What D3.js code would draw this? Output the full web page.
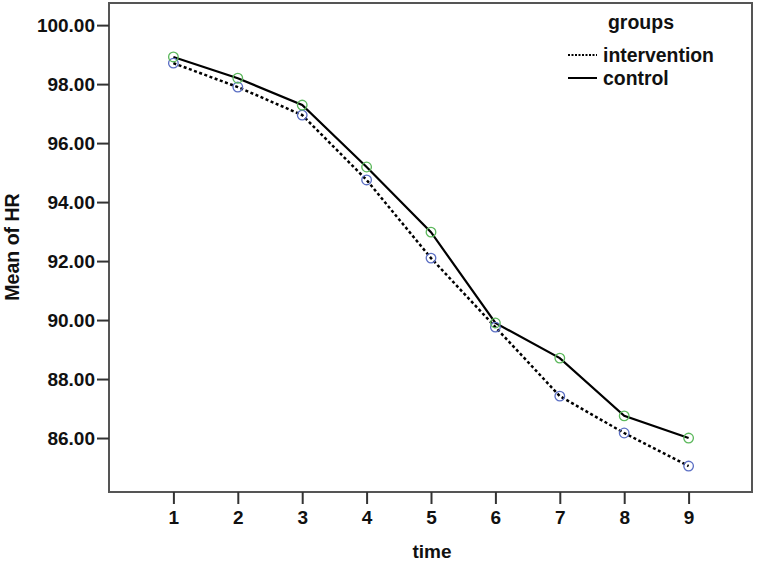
<!DOCTYPE html>
<html lang="en">
<head>
    <meta charset="UTF-8">
    <title>Mean of HR by time</title>
    <script src="https://d3js.org/d3.v7.min.js"></script>
    <style>
        body { margin: 0; background: #fff; }
        text { font-family: "Liberation Sans", Arial, sans-serif; fill: #111; font-weight: bold; }
    </style>
</head>
<body>
    <script>
        // data
        var times = [1, 2, 3, 4, 5, 6, 7, 8, 9];
        var intervention = [98.71, 97.90, 96.95, 94.75, 92.10, 89.76, 87.42, 86.17, 85.05];
        var control = [98.92, 98.20, 97.29, 95.19, 92.98, 89.90, 88.71, 86.75, 86.00];
        var yTicks = [86, 88, 90, 92, 94, 96, 98, 100];

        var w = 757, h = 563;
        var mLeft = 109, mRight = 752, mTop = 3, mBottom = 492;

        var svg = d3.select("body").append("svg")
            .attr("width", w)
            .attr("height", h);

        var x = d3.scaleLinear().domain([0, 10]).range([mLeft, mRight + 1]);
        var y = d3.scaleLinear().domain([84.17, 100.75]).range([mBottom, mTop]);

        // plot frame
        svg.append("rect")
            .attr("x", mLeft).attr("y", mTop)
            .attr("width", mRight - mLeft).attr("height", mBottom - mTop)
            .attr("fill", "none")
            .attr("stroke", "#555")
            .attr("stroke-width", 2);

        // axes
        var yAxis = svg.append("g")
            .attr("transform", "translate(" + mLeft + ",0)")
            .call(d3.axisLeft(y).tickValues(yTicks).tickSize(12).tickPadding(2)
                .tickFormat(d3.format(".2f")));

        var xAxis = svg.append("g")
            .attr("transform", "translate(0," + mBottom + ")")
            .call(d3.axisBottom(x).tickValues(times).tickSize(12).tickPadding(7));

        [yAxis, xAxis].forEach(function(g) {
            g.select(".domain").remove();
            g.selectAll("line").attr("stroke", "#333").attr("stroke-width", 2);
            g.selectAll("text").style("font-size", "19px").attr("fill", "#111");
        });

        // axis titles
        svg.append("text")
            .attr("x", 432)
            .attr("y", 558)
            .attr("text-anchor", "middle")
            .style("font-size", "19px")
            .text("time");

        svg.append("text")
            .attr("transform", "translate(19,247) rotate(-90)")
            .attr("text-anchor", "middle")
            .style("font-size", "19.5px")
            .text("Mean of HR");

        // lines
        var line = d3.line()
            .x(function(d, i) { return x(times[i]); })
            .y(function(d) { return y(d); });

        svg.append("path")
            .datum(intervention)
            .attr("d", line)
            .attr("fill", "none")
            .attr("stroke", "#000")
            .attr("stroke-width", 2.5)
            .attr("stroke-dasharray", "3,2.5");

        svg.append("path")
            .datum(control)
            .attr("d", line)
            .attr("fill", "none")
            .attr("stroke", "#000")
            .attr("stroke-width", 2.2);

        // markers
        svg.selectAll("circle.int")
            .data(intervention)
            .enter()
            .append("circle")
            .attr("class", "int")
            .attr("cx", function(d, i) { return x(times[i]); })
            .attr("cy", function(d) { return y(d); })
            .attr("r", 4.8)
            .attr("fill", "none")
            .attr("stroke", "#5b6fc4")
            .attr("stroke-width", 1.3);

        svg.selectAll("circle.ctl")
            .data(control)
            .enter()
            .append("circle")
            .attr("class", "ctl")
            .attr("cx", function(d, i) { return x(times[i]); })
            .attr("cy", function(d) { return y(d); })
            .attr("r", 4.8)
            .attr("fill", "none")
            .attr("stroke", "#5cb85c")
            .attr("stroke-width", 1.3);

        // legend
        var legend = svg.append("g");
        legend.append("text")
            .attr("x", 641).attr("y", 29)
            .attr("text-anchor", "middle")
            .style("font-size", "19.5px")
            .text("groups");

        var items = [
            { name: "intervention", dash: "2,1.5" },
            { name: "control", dash: null }
        ];
        items.forEach(function(it, i) {
            var ly = 55 + i * 23;
            legend.append("line")
                .attr("x1", 568).attr("x2", 597)
                .attr("y1", ly).attr("y2", ly)
                .attr("stroke", "#000")
                .attr("stroke-width", 2)
                .attr("stroke-dasharray", it.dash);
            legend.append("text")
                .attr("x", 603).attr("y", ly + 7)
                .style("font-size", "19.4px")
                .text(it.name);
        });
    </script>
</body>
</html>
